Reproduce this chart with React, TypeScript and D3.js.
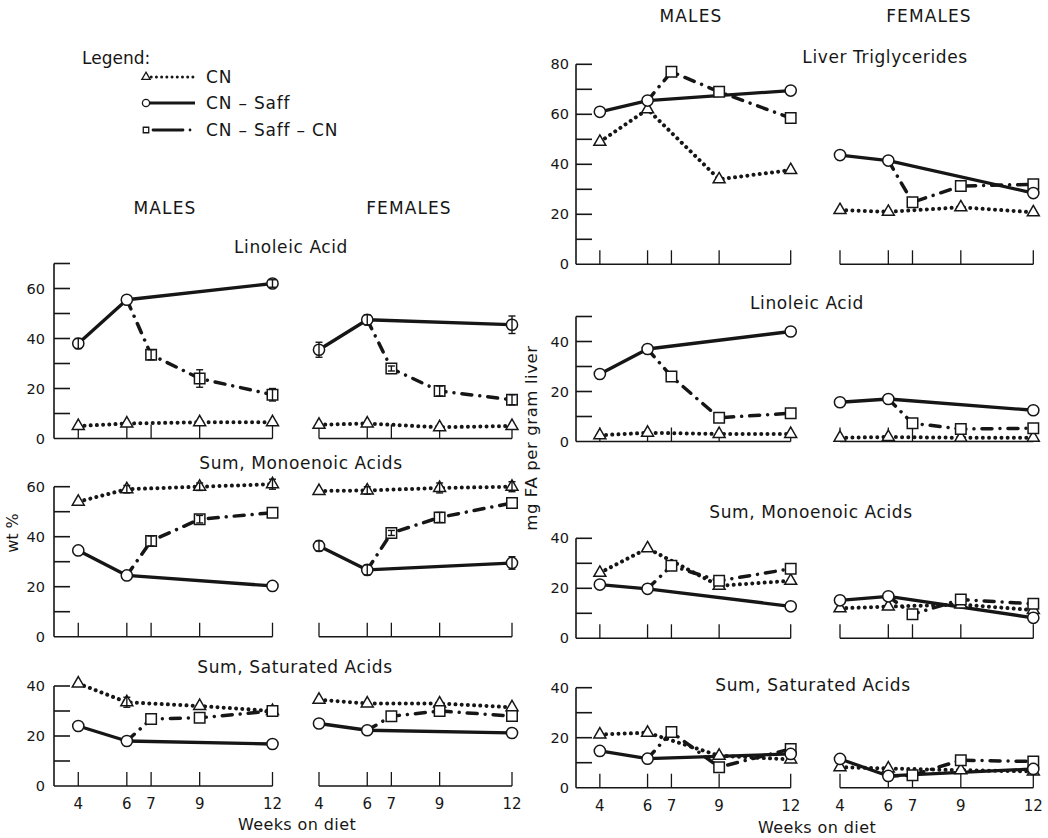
import React from "react";
import * as d3 from "d3";

// weeks on which each diet group was sampled
const weeksCN = [4, 6, 9, 12];
const weeksSaff = [4, 6, 12];
const weeksSaffCN = [7, 9, 12];
const xTickWeeks = [4, 6, 7, 9, 12];

// ---- wt % (left block) ----
const wtLinMaleCN = [5, 6, 6.5, 6.5];
const wtLinMaleSaff = [38, 55.5, 62];
const wtLinMaleSaffErr = [2, 0, 1.5];
const wtLinMaleSaffCN = [33.5, 24, 17.5];
const wtLinMaleSaffCNErr = [2, 3.5, 2.5];
const wtLinFemaleCN = [5.5, 6, 4.5, 5];
const wtLinFemaleSaff = [35.5, 47.5, 45.5];
const wtLinFemaleSaffErr = [3, 2, 3.5];
const wtLinFemaleSaffCN = [28, 19, 15.5];
const wtLinFemaleSaffCNErr = [1, 2, 2];

const wtMonoMaleCN = [54, 59, 60, 61];
const wtMonoMaleCNErr = [0, 1.5, 1.5, 2];
const wtMonoMaleSaff = [34.5, 24.5, 20.3];
const wtMonoMaleSaffCN = [38.3, 47, 49.6];
const wtMonoMaleSaffCNErr = [2, 1.5, 0];
const wtMonoFemaleCN = [58.3, 58.5, 59.5, 60];
const wtMonoFemaleCNErr = [0, 1.5, 2, 2];
const wtMonoFemaleSaff = [36.3, 26.7, 29.5];
const wtMonoFemaleSaffErr = [2, 2, 2.5];
const wtMonoFemaleSaffCN = [41.5, 47.7, 53.5];
const wtMonoFemaleSaffCNErr = [1, 2, 0];

const wtSatMaleCN = [41, 33.5, 32, 30];
const wtSatMaleCNErr = [0, 2, 0, 0];
const wtSatMaleSaff = [24, 18, 16.8];
const wtSatMaleSaffCN = [26.8, 27.3, 30];
const wtSatFemaleCN = [34.5, 33, 33, 31.5];
const wtSatFemaleSaff = [25, 22.3, 21.2];
const wtSatFemaleSaffCN = [27.9, 30, 28];

// ---- mg FA per gram liver (right block) ----
const mgTrigMaleCN = [49, 62, 34, 37.7];
const mgTrigMaleSaff = [61, 65.5, 69.5];
const mgTrigMaleSaffCN = [77, 69, 58.5];
const mgTrigFemaleCN = [21.7, 21, 22.8, 20.8];
const mgTrigFemaleSaff = [43.7, 41.5, 28.5];
const mgTrigFemaleSaffCN = [24.8, 31.3, 32];

const mgLinMaleCN = [2.5, 3.5, 3, 3];
const mgLinMaleSaff = [27, 37, 44];
const mgLinMaleSaffCN = [26, 9.5, 11.3];
const mgLinFemaleCN = [1.5, 1.8, 1.5, 1.5];
const mgLinFemaleSaff = [15.7, 17, 12.5];
const mgLinFemaleSaffCN = [7.3, 5, 5.3];

const mgMonoMaleCN = [26.2, 36, 21, 23];
const mgMonoMaleSaff = [21.5, 19.8, 12.8];
const mgMonoMaleSaffCN = [29, 23, 27.8];
const mgMonoFemaleCN = [12, 12.7, 13.5, 11.3];
const mgMonoFemaleSaff = [15.2, 16.8, 8.2];
const mgMonoFemaleSaffCN = [9.6, 15.5, 13.8];

const mgSatMaleCN = [21.3, 22, 12.8, 11.3];
const mgSatMaleSaff = [14.7, 11.6, 13.5];
const mgSatMaleSaffCN = [22.3, 8.2, 15.5];
const mgSatFemaleCN = [8.2, 7.7, 7, 6.5];
const mgSatFemaleSaff = [11.5, 4.7, 7.5];
const mgSatFemaleSaffCN = [5, 11, 10.5];

const legendLabels = ["CN", "CN – Saff", "CN – Saff – CN"];

// ---- layout ----
const W = 1048;
const H = 838;
const FONT = "'DejaVu Sans', sans-serif";
const INK = "#161616";
const PX_PER_UNIT = 2.5;

const sides = {
  left: { male: [54, 272.5], female: [319, 512] },
  right: { male: [576, 790.7], female: [840, 1033.3] },
};

type Group = {
  cn: number[];
  saff: number[];
  saffcn: number[];
  cnErr?: number[];
  saffErr?: number[];
  saffcnErr?: number[];
};

type Panel = {
  title: string;
  tx: number;
  ty: number;
  side: "left" | "right";
  yMax: number;
  y0: number;
  male: Group;
  female: Group;
  xLabels?: boolean;
};

const panels: Panel[] = [
  {
    title: "Linoleic Acid", tx: 291, ty: 253, side: "left", yMax: 70, y0: 438.5,
    male: { cn: wtLinMaleCN, saff: wtLinMaleSaff, saffErr: wtLinMaleSaffErr, saffcn: wtLinMaleSaffCN, saffcnErr: wtLinMaleSaffCNErr },
    female: { cn: wtLinFemaleCN, saff: wtLinFemaleSaff, saffErr: wtLinFemaleSaffErr, saffcn: wtLinFemaleSaffCN, saffcnErr: wtLinFemaleSaffCNErr },
  },
  {
    title: "Sum, Monoenoic Acids", tx: 301, ty: 469, side: "left", yMax: 60, y0: 636.7,
    male: { cn: wtMonoMaleCN, cnErr: wtMonoMaleCNErr, saff: wtMonoMaleSaff, saffcn: wtMonoMaleSaffCN, saffcnErr: wtMonoMaleSaffCNErr },
    female: { cn: wtMonoFemaleCN, cnErr: wtMonoFemaleCNErr, saff: wtMonoFemaleSaff, saffErr: wtMonoFemaleSaffErr, saffcn: wtMonoFemaleSaffCN, saffcnErr: wtMonoFemaleSaffCNErr },
  },
  {
    title: "Sum, Saturated Acids", tx: 295, ty: 673, side: "left", yMax: 40, y0: 786, xLabels: true,
    male: { cn: wtSatMaleCN, cnErr: wtSatMaleCNErr, saff: wtSatMaleSaff, saffcn: wtSatMaleSaffCN },
    female: { cn: wtSatFemaleCN, saff: wtSatFemaleSaff, saffcn: wtSatFemaleSaffCN },
  },
  {
    title: "Liver Triglycerides", tx: 885, ty: 63, side: "right", yMax: 80, y0: 264.3,
    male: { cn: mgTrigMaleCN, saff: mgTrigMaleSaff, saffcn: mgTrigMaleSaffCN },
    female: { cn: mgTrigFemaleCN, saff: mgTrigFemaleSaff, saffcn: mgTrigFemaleSaffCN },
  },
  {
    title: "Linoleic Acid", tx: 807, ty: 309, side: "right", yMax: 50, y0: 441.5,
    male: { cn: mgLinMaleCN, saff: mgLinMaleSaff, saffcn: mgLinMaleSaffCN },
    female: { cn: mgLinFemaleCN, saff: mgLinFemaleSaff, saffcn: mgLinFemaleSaffCN },
  },
  {
    title: "Sum, Monoenoic Acids", tx: 811, ty: 518, side: "right", yMax: 40, y0: 638.3,
    male: { cn: mgMonoMaleCN, saff: mgMonoMaleSaff, saffcn: mgMonoMaleSaffCN },
    female: { cn: mgMonoFemaleCN, saff: mgMonoFemaleSaff, saffcn: mgMonoFemaleSaffCN },
  },
  {
    title: "Sum, Saturated Acids", tx: 813, ty: 691, side: "right", yMax: 40, y0: 787.7, xLabels: true,
    male: { cn: mgSatMaleCN, saff: mgSatMaleSaff, saffcn: mgSatMaleSaffCN },
    female: { cn: mgSatFemaleCN, saff: mgSatFemaleSaff, saffcn: mgSatFemaleSaffCN },
  },
];

// line looks of the three diet groups
const styles = {
  cn: { dash: "0.01 6.2", width: 4 },
  saff: { dash: undefined, width: 3.3 },
  saffcn: { dash: "10 8 0.01 8", width: 3.5 },
};

const symbolPath = (type: d3.SymbolType, size: number) => d3.symbol().type(type).size(size)()!;
const TRI = symbolPath(d3.symbolTriangle, 62);
const SQR = symbolPath(d3.symbolSquare, 110);

type Pt = { w: number; v: number; e: number };

const toPts = (weeks: number[], vals: number[], errs?: number[]): Pt[] =>
  weeks.map((w, i) => ({ w, v: vals[i], e: errs ? errs[i] : 0 }));

function Marker({ kind, x, y }: { kind: "cn" | "saff" | "saffcn"; x: number; y: number }) {
  const common = { fill: "#fff", stroke: INK, strokeWidth: 1.5 };
  if (kind === "saff") return <circle cx={x} cy={y} r={5.6} {...common} />;
  return <path d={kind === "cn" ? TRI : SQR} transform={`translate(${x},${y})`} {...common} />;
}

function Group_({ g, x, y }: { g: Group; x: d3.ScaleLinear<number, number>; y: d3.ScaleLinear<number, number> }) {
  const line = d3.line<Pt>().x((d) => x(d.w)).y((d) => y(d.v));
  const cn = toPts(weeksCN, g.cn, g.cnErr);
  const saff = toPts(weeksSaff, g.saff, g.saffErr);
  const saffcn = toPts(weeksSaffCN, g.saffcn, g.saffcnErr);
  // the switch-back diet starts from the CN-Saff value at week 6
  const branch = [saff[weeksSaff.indexOf(6)], ...saffcn];
  const series: { kind: "cn" | "saff" | "saffcn"; pts: Pt[]; linePts: Pt[] }[] = [
    { kind: "cn", pts: cn, linePts: cn },
    { kind: "saffcn", pts: saffcn, linePts: branch },
    { kind: "saff", pts: saff, linePts: saff },
  ];
  return (
    <g>
      {series.map((s) => (
        <path
          key={s.kind + "l"}
          d={line(s.linePts)!}
          fill="none"
          stroke={INK}
          strokeWidth={styles[s.kind].width}
          strokeDasharray={styles[s.kind].dash}
          strokeLinecap={s.kind === "saff" ? "butt" : "round"}
          strokeLinejoin="round"
        />
      ))}
      {series.map((s) =>
        s.pts.map((p, i) => (
          <Marker key={s.kind + i} kind={s.kind} x={x(p.w)} y={y(p.v)} />
        ))
      )}
      {series.map((s) =>
        s.pts
          .filter((p) => p.e > 0)
          .map((p, i) => {
            const cx = x(p.w);
            const ya = y(p.v - p.e);
            const yb = y(p.v + p.e);
            return (
              <g key={s.kind + "e" + i} stroke={INK} strokeWidth={1.4}>
                <line x1={cx} x2={cx} y1={ya} y2={yb} />
                <line x1={cx - 3.5} x2={cx + 3.5} y1={ya} y2={ya} />
                <line x1={cx - 3.5} x2={cx + 3.5} y1={yb} y2={yb} />
              </g>
            );
          })
      )}
    </g>
  );
}

function PanelView({ p }: { p: Panel }) {
  const side = sides[p.side];
  const xm = d3.scaleLinear().domain([3, 12]).range(side.male);
  const xf = d3.scaleLinear().domain([4, 12]).range(side.female);
  const y = d3.scaleLinear().domain([0, p.yMax]).range([p.y0, p.y0 - p.yMax * PX_PER_UNIT]);
  const axisX = xm(3);
  const minor = d3.range(10, p.yMax + 1, 10);
  const labels = d3.range(0, p.yMax + 1, 20);
  const labelGap = p.side === "left" ? 9 : 7;
  const tickLen = 14;
  return (
    <g>
      <text x={p.tx} y={p.ty} textAnchor="middle" fontSize={17} letterSpacing={0.6}>
        {p.title}
      </text>
      {/* y axis */}
      <g stroke={INK} strokeWidth={1.6}>
        <line x1={axisX} x2={axisX} y1={y(0)} y2={y(p.yMax)} />
        {minor.map((t) => (
          <line key={t} x1={axisX} x2={axisX + 16} y1={y(t)} y2={y(t)} />
        ))}
        {/* baselines with upward week ticks */}
        <line x1={axisX} x2={xm(12)} y1={y(0)} y2={y(0)} />
        <line x1={xf(4)} x2={xf(12)} y1={y(0)} y2={y(0)} />
        {xTickWeeks.map((w) => (
          <g key={w}>
            <line x1={xm(w)} x2={xm(w)} y1={y(0)} y2={y(0) - tickLen} strokeWidth={1.3} />
            <line x1={xf(w)} x2={xf(w)} y1={y(0)} y2={y(0) - tickLen} strokeWidth={1.3} />
          </g>
        ))}
      </g>
      {labels.map((t) => (
        <text key={t} x={axisX - labelGap} y={y(t) + 5} textAnchor="end" fontSize={14.5}>
          {t}
        </text>
      ))}
      {p.xLabels &&
        xTickWeeks.map((w) => (
          <g key={w} fontSize={15}>
            <text x={xm(w)} y={y(0) + 23} textAnchor="middle">{w}</text>
            <text x={xf(w)} y={y(0) + 23} textAnchor="middle">{w}</text>
          </g>
        ))}
      <Group_ g={p.male} x={xm} y={y} />
      <Group_ g={p.female} x={xf} y={y} />
    </g>
  );
}

function Legend() {
  const rows: ("cn" | "saff" | "saffcn")[] = ["cn", "saff", "saffcn"];
  const rowY = [77, 103, 130];
  const lx = d3.scaleLinear().domain([0, 1]).range([146, 195]);
  return (
    <g>
      <text x={82} y={64} fontSize={17}>Legend:</text>
      {rows.map((k, i) => (
        <g key={k}>
          <path
            d={`M${lx(0)},${rowY[i]}H${lx(1)}`}
            stroke={INK}
            strokeWidth={k === "cn" ? 3 : 2.8}
            strokeDasharray={k === "cn" ? "0.01 5.2" : k === "saffcn" ? "0.01 7 30 7" : undefined}
            strokeLinecap={k === "saff" ? "butt" : "round"}
          />
          {k === "saff" ? (
            <circle cx={lx(0)} cy={rowY[i]} r={3.6} fill="#fff" stroke={INK} strokeWidth={1.3} />
          ) : (
            <path
              d={symbolPath(k === "cn" ? d3.symbolTriangle : d3.symbolSquare, 30)}
              transform={`translate(${lx(0)},${rowY[i]})`}
              fill="#fff"
              stroke={INK}
              strokeWidth={1.3}
            />
          )}
          <text x={206} y={rowY[i] + 6} fontSize={17} letterSpacing={0.8}>
            {legendLabels[i]}
          </text>
        </g>
      ))}
    </g>
  );
}

export default function App() {
  return (
    <svg
      width={W}
      height={H}
      viewBox={`0 0 ${W} ${H}`}
      style={{ position: "absolute", left: 0, top: 0, background: "#fff", display: "block" }}
      fontFamily={FONT}
      fill={INK}
    >
      <rect width={W} height={H} fill="#fff" />
      <Legend />
      <g fontSize={17} letterSpacing={1.1} textAnchor="middle">
        <text x={165} y={214}>MALES</text>
        <text x={409} y={214}>FEMALES</text>
        <text x={691} y={22}>MALES</text>
        <text x={929} y={22}>FEMALES</text>
      </g>
      {panels.map((p, i) => (
        <PanelView key={i} p={p} />
      ))}
      <text transform="translate(18,533) rotate(-90)" textAnchor="middle" fontSize={16}>
        wt %
      </text>
      <text transform="translate(537,438) rotate(-90)" textAnchor="middle" fontSize={16.5} letterSpacing={0.6}>
        mg FA per gram liver
      </text>
      <g fontSize={16} letterSpacing={0.4} textAnchor="middle">
        <text x={297} y={830}>Weeks on diet</text>
        <text x={817} y={833}>Weeks on diet</text>
      </g>
    </svg>
  );
}
